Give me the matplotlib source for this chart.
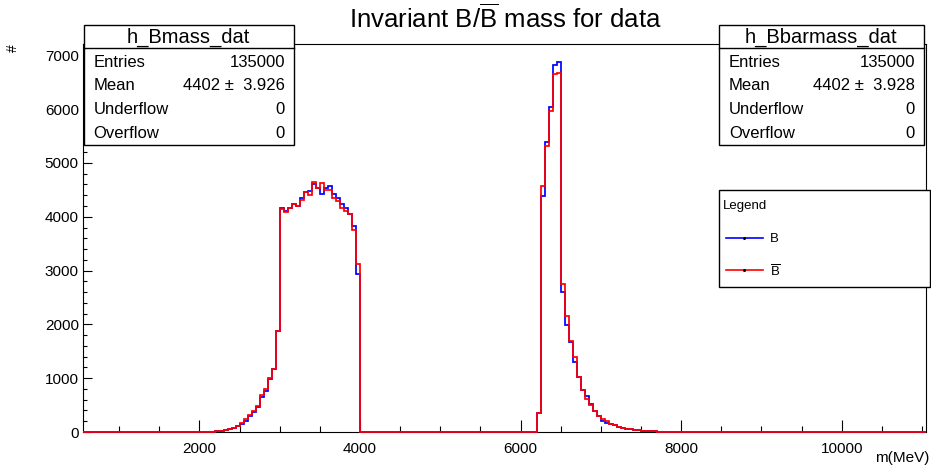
import numpy as np
import matplotlib
matplotlib.use("Agg")
import matplotlib.pyplot as plt
from matplotlib.patches import Rectangle
from matplotlib.lines import Line2D
from matplotlib.ticker import MultipleLocator

plt.rcParams['font.family'] = ['Liberation Sans', 'DejaVu Sans']
plt.rcParams['mathtext.fontset'] = 'custom'
plt.rcParams['mathtext.rm'] = 'Liberation Sans'
plt.rcParams['mathtext.it'] = 'Liberation Sans:italic'
plt.rcParams['mathtext.bf'] = 'Liberation Sans:bold'

# ---------------- data ----------------
x_min, x_max, bin_width = 550, 11050, 50
y_max = 7210

left_start = 2100   # first bin of the low-mass region
left_B = [2, 5, 11, 20, 35, 52, 70, 105, 155, 211, 297, 372, 470, 657, 768, 991, 1170, 1870,
          4164, 4100, 4164, 4233, 4207, 4356, 4467, 4480, 4616, 4542, 4430, 4530, 4579, 4430,
          4344, 4244, 4158, 4058, 3835, 2931]
left_Bbar = [3, 6, 12, 22, 37, 56, 74, 111, 161, 236, 322, 397, 483, 682, 793, 1004, 1177, 1884,
             4140, 4090, 4164, 4244, 4195, 4307, 4467, 4405, 4641, 4530, 4629, 4505, 4505, 4356,
             4294, 4158, 4108, 4046, 3749, 3117]

right_start = 6200  # first bin of the high-mass region
right_B = [359, 4381, 5397, 6042, 6822, 6872, 2600, 1995, 1673, 1301, 1028, 781, 669, 521, 385,
           297, 211, 173, 149, 124, 99, 74, 62, 50, 37, 31, 25, 19, 12, 12, 6, 6, 4, 3, 2, 2, 1, 1]
right_Bbar = [359, 4567, 5311, 5967, 6661, 6680, 2757, 2156, 1697, 1388, 1028, 781, 619, 496, 385,
              297, 236, 198, 149, 124, 99, 74, 62, 50, 37, 31, 25, 19, 12, 12, 6, 6, 4, 3, 2, 2, 1, 1]

stats_B = ["h_Bmass_dat", "135000", "4402 \u00b1  3.926", "0", "0"]
stats_Bbar = ["h_Bbarmass_dat", "135000", "4402 \u00b1  3.928", "0", "0"]
stat_rows = ["Entries", "Mean", "Underflow", "Overflow"]

edges = np.arange(x_min, x_max + bin_width, bin_width)


def fill(start, left_vals, start2, right_vals):
    h = np.zeros(len(edges) - 1)
    i0 = int((start - x_min) // bin_width)
    h[i0:i0 + len(left_vals)] = left_vals
    j0 = int((start2 - x_min) // bin_width)
    h[j0:j0 + len(right_vals)] = right_vals
    return h


hB = fill(left_start, left_B, right_start, right_B)
hBbar = fill(left_start, left_Bbar, right_start, right_Bbar)

# ---------------- figure ----------------
W, H = 931, 467
fig = plt.figure(figsize=(W / 100, H / 100), dpi=100)


def fx(x):
    return x / W


def fy(y):
    return 1 - y / H


ax_l, ax_r, ax_t, ax_b = 83, 926, 44, 432
ax = fig.add_axes([fx(ax_l), fy(ax_b), (ax_r - ax_l) / W, (ax_b - ax_t) / H])
ax.set_xlim(x_min, x_max)
ax.set_ylim(0, y_max)

ax.stairs(hB, edges, color='#0000ff', lw=1.25, zorder=3, clip_on=False)
ax.stairs(hBbar, edges, color='#ff0000', lw=1.25, zorder=4, clip_on=False)

for s in ax.spines.values():
    s.set_linewidth(0.8)
ax.xaxis.set_major_locator(MultipleLocator(2000))
ax.xaxis.set_minor_locator(MultipleLocator(500))
ax.yaxis.set_major_locator(MultipleLocator(1000))
ax.yaxis.set_minor_locator(MultipleLocator(200))
ax.tick_params(which='both', direction='in', top=False, right=False, width=0.8, labelsize=11)
ax.tick_params(axis='x', which='major', length=8.6, pad=7)
ax.tick_params(axis='x', which='minor', length=4.3)
ax.tick_params(axis='y', which='major', length=6.5, pad=3)
ax.tick_params(axis='y', which='minor', length=3.2)

# axis titles
fig.text(fx(929), fy(458), "m(MeV)", ha='right', va='center', fontsize=11)
fig.text(fx(13), fy(48), "#", ha='center', va='center', fontsize=10, rotation=90)

# main title
fig.text(fx(505), fy(18.5), r"Invariant B/$\overline{\mathrm{B}}$ mass for data",
         ha='center', va='center', fontsize=18.5)


# stat boxes
def stat_box(x0, x1, y0, y1, sep, entries):
    fig.add_artist(Rectangle((fx(x0), fy(y1)), (x1 - x0) / W, (y1 - y0) / H,
                             transform=fig.transFigure, facecolor='white',
                             edgecolor='black', lw=1.0, zorder=10))
    fig.add_artist(Line2D([fx(x0), fx(x1)], [fy(sep), fy(sep)], transform=fig.transFigure,
                          color='black', lw=1.0, zorder=11))
    fig.text(fx((x0 + x1) / 2), fy((y0 + sep) / 2 + 0.5), entries[0], ha='center', va='center',
             fontsize=14.5, zorder=12)
    row_y = [62.5, 86, 109.5, 133.5]
    for name, val, yy in zip(stat_rows, entries[1:], row_y):
        fig.text(fx(x0 + 10), fy(yy), name, ha='left', va='center', fontsize=12, zorder=12)
        fig.text(fx(x1 - 8.5), fy(yy), val, ha='right', va='center', fontsize=12, zorder=12)


stat_box(83.5, 293.5, 25, 145, 48, stats_B)
stat_box(719, 923.5, 25.5, 145, 48, stats_Bbar)

# legend box
lx0, lx1, ly0, ly1 = 718.5, 930, 189.5, 286.5
fig.add_artist(Rectangle((fx(lx0), fy(ly1)), (lx1 - lx0) / W, (ly1 - ly0) / H,
                         transform=fig.transFigure, facecolor='white', edgecolor='black',
                         lw=1.0, zorder=10))
fig.text(fx(723), fy(206), "Legend", ha='left', va='center', fontsize=9.5, zorder=12)
for yy, col, lab in [(238, '#0000ff', "B"), (270, '#ff0000', r"$\overline{\mathrm{B}}$")]:
    fig.add_artist(Line2D([fx(726), fx(763)], [fy(yy), fy(yy)], transform=fig.transFigure,
                          color=col, lw=1.2, zorder=11))
    fig.add_artist(Line2D([fx(744)], [fy(yy)], transform=fig.transFigure, marker='o',
                          markersize=1.2, color='black', lw=0, zorder=12))
    fig.text(fx(770), fy(yy + 1.5), lab, ha='left', va='center', fontsize=9.5, zorder=12)

fig.savefig("out.png", dpi=100)
